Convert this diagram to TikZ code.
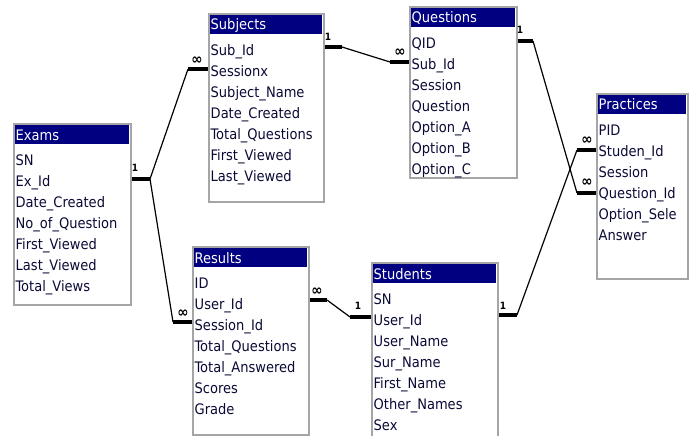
\documentclass[tikz,border=0pt]{standalone}
\usepackage{fontspec}
\setmainfont{DejaVu Sans Condensed}
\definecolor{navy}{RGB}{0,0,128}
\definecolor{framec}{RGB}{165,165,165}
\definecolor{fieldc}{RGB}{10,10,55}
\tikzset{
 tabbox/.style={draw=framec, line width=2.4pt, fill=white, inner sep=0pt, anchor=north west},
 titlebar/.style={fill=navy, inner sep=0pt, anchor=north west, minimum height=19pt},
 titletext/.style={text=white, anchor=base west, inner sep=0pt, font=\fontsize{14.5}{15}\selectfont},
 field/.style={text=fieldc, anchor=base west, inner sep=0pt, font=\fontsize{14.5}{15}\selectfont},
 stub/.style={line width=3.6pt},
 link/.style={line width=1.2pt},
 one/.style={font=\fontsize{10}{10}\selectfont\bfseries, inner sep=0pt},
 many/.style={font=\fontsize{15}{15}\selectfont\bfseries, inner sep=0pt},
}
\newcommand\erdtab[7]{%
 \node[tabbox, minimum width={(#4-#2)*1pt}, minimum height={(#5-#3)*1pt}] (#1) at (#2,#3) {};
 \node[titlebar, minimum width={(#4-#2-3)*1pt}] (#1-bar) at (#2+1.5,#3+1.5) {};
 \node[titletext] (#1-title) at (#2+2.5,#3+17) {#6};
 \foreach \f [count=\i] in {#7} {\node[field] (#1-r\i) at (#2+2.5,{#3+42.5+21*(\i-1)}) {\f};}
}
\begin{document}
\begin{tikzpicture}[x=1pt,y=-1pt]
\useasboundingbox (0,0) rectangle (689,436);
\erdtab{exams}{13}{123}{130}{304}{Exams}{SN,Ex\_Id,Date\_Created,No\_of\_Question,First\_Viewed,Last\_Viewed,Total\_Views}
\erdtab{subjects}{208}{13}{323}{201}{Subjects}{Sub\_Id,Sessionx,Subject\_Name,Date\_Created,Total\_Questions,First\_Viewed,Last\_Viewed}
\erdtab{questions}{409}{6}{516}{177}{Questions}{QID,Sub\_Id,Session,Question,Option\_A,Option\_B,Option\_C}
\erdtab{practices}{596}{93}{687}{278}{Practices}{PID,Studen\_Id,Session,Question\_Id,Option\_Sele,Answer}
\erdtab{results}{192}{246}{308}{434}{Results}{ID,User\_Id,Session\_Id,Total\_Questions,Total\_Answered,Scores,Grade}
\erdtab{students}{371}{262}{497}{446}{Students}{SN,User\_Id,User\_Name,Sur\_Name,First\_Name,Other\_Names,Sex}
% stub end coordinates
\coordinate (cE) at (150,179);
\coordinate (cSl) at (188,69);
\coordinate (cSr) at (342,47);
\coordinate (cQl) at (390,62);
\coordinate (cQr) at (533,41);
\coordinate (cPu) at (577,150);
\coordinate (cPl) at (577,193);
\coordinate (cRl) at (173,322);
\coordinate (cRr) at (327,300);
\coordinate (cStl) at (350,317);
\coordinate (cStr) at (517,315);
% stubs
\draw[stub] (cE -| exams.east) -- (cE);
\draw[stub] (cSl) -- (cSl -| subjects.west);
\draw[stub] (cSr -| subjects.east) -- (cSr);
\draw[stub] (cQl) -- (cQl -| questions.west);
\draw[stub] (cQr -| questions.east) -- (cQr);
\draw[stub] (cPu) -- (cPu -| practices.west);
\draw[stub] (cPl) -- (cPl -| practices.west);
\draw[stub] (cRl) -- (cRl -| results.west);
\draw[stub] (cRr -| results.east) -- (cRr);
\draw[stub] (cStl) -- (cStl -| students.west);
\draw[stub] (cStr -| students.east) -- (cStr);
% links
\draw[link] (cE) -- (cSl);
\draw[link] (cE) -- (cRl);
\draw[link] (cSr) -- (cQl);
\draw[link] (cQr) -- (cPl);
\draw[link] (cRr) -- (cStl);
\draw[link] (cStr) -- (cPu);
% cardinality labels
\node[one] (k1) at (135,168) {1};
\node[many] (k2) at (197,61) {∞};
\node[one] (k3) at (328,37) {1};
\node[many] (k4) at (400,53) {∞};
\node[one] (k5) at (520,30) {1};
\node[many] (k6) at (587,141) {∞};
\node[many] (k7) at (587,183) {∞};
\node[many] (k8) at (183,314) {∞};
\node[many] (k9) at (317,292) {∞};
\node[one] (k10) at (358,306) {1};
\node[one] (k11) at (503,306) {1};
\end{tikzpicture}
\end{document}
